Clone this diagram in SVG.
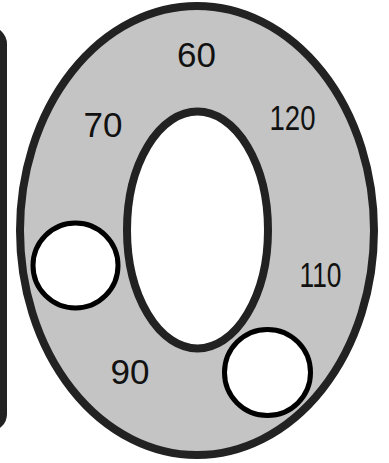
<svg xmlns="http://www.w3.org/2000/svg" width="389" height="463" viewBox="0 0 389 463">
  <style>
    .ring { fill: #c4c4c4; stroke: #222; stroke-width: 8; }
    .hole { fill: #fff; stroke: #222; stroke-width: 8; }
    .spot { fill: #fff; stroke: #000; stroke-width: 5; }
    .lbl { font-family: "Liberation Sans", Arial, sans-serif; font-size: 35px; fill: #111; text-anchor: middle; }
  </style>
  <rect width="389" height="463" fill="#fff"/>
  <g id="panel">
    <rect x="-100" y="30" width="103.5" height="398" rx="14" fill="#fff" stroke="#222" stroke-width="7"/>
  </g>
  <g id="ring">
    <ellipse class="ring" cx="197" cy="230.5" rx="177" ry="224.5"/>
    <ellipse class="hole" cx="197.5" cy="230" rx="70.5" ry="118.5"/>
  </g>
  <g id="labels">
    <text class="lbl" x="196.5" y="67">60</text>
    <text class="lbl" x="103" y="137">70</text>
    <text class="lbl" x="292.5" y="130" textLength="46" lengthAdjust="spacingAndGlyphs">120</text>
    <text class="lbl" x="320.5" y="287" textLength="42" lengthAdjust="spacingAndGlyphs">110</text>
    <text class="lbl" x="130" y="384">90</text>
  </g>
  <g id="spot-left">
    <circle class="spot" cx="75.5" cy="265.5" r="42.5"/>
  </g>
  <g id="spot-right">
    <circle class="spot" cx="267.5" cy="372.5" r="43"/>
  </g>
</svg>
